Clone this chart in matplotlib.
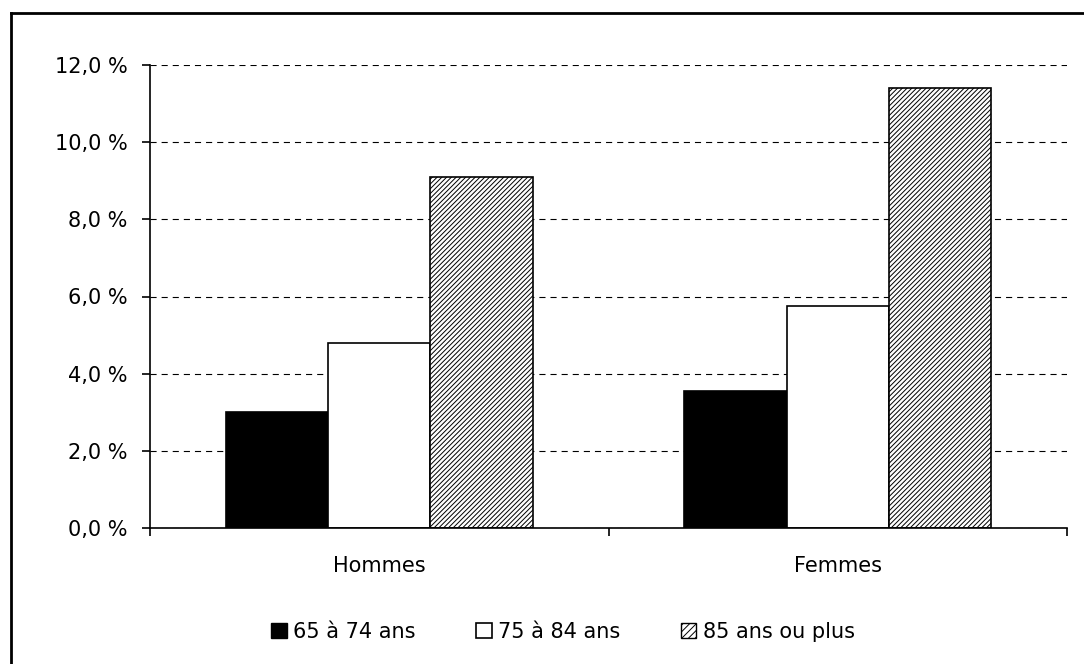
import matplotlib
matplotlib.use("Agg")
import matplotlib.pyplot as plt
import numpy as np
from matplotlib.patches import Patch
from matplotlib.lines import Line2D

plt.rcParams['font.family'] = ['DejaVu Sans']
plt.rcParams['hatch.linewidth'] = 0.7

categories = ["Hommes", "Femmes"]
series_names = ["65 à 74 ans", "75 à 84 ans", "85 ans ou plus"]
v65_74 = [3.0, 3.55]
v75_84 = [4.8, 5.75]
v85_plus = [9.1, 11.4]
yticks = [0, 2, 4, 6, 8, 10, 12]
ytick_labels = ["0,0 %", "2,0 %", "4,0 %", "6,0 %", "8,0 %", "10,0 %", "12,0 %"]

FS = 15
W, H = 1084, 664
fig = plt.figure(figsize=(W / 100, H / 100), dpi=100)
ax = fig.add_axes([150 / W, 1 - 528 / H, (1067 - 150) / W, (528 - 65) / H])

x = np.arange(len(categories))
bw = 0.223
HATCH = "///////"
styles = [dict(facecolor="black", hatch=None),
          dict(facecolor="white", hatch=None),
          dict(facecolor="white", hatch=HATCH)]
for i, vals in enumerate([v65_74, v75_84, v85_plus]):
    ax.bar(x + (i - 1) * bw, vals, width=bw, edgecolor="black", linewidth=1.2,
           zorder=3, **styles[i])

ax.set_xlim(-0.5, 1.5)
ax.set_ylim(0, 12)
ax.set_yticks(yticks)
ax.set_yticklabels(ytick_labels, fontsize=FS)
ax.yaxis.grid(True, linestyle=(0, (5.5, 4.5)), color="black", linewidth=0.8, zorder=0)
ax.set_xticks([-0.5, 0.5, 1.5])
ax.set_xticklabels([])
ax.set_xticks(x, minor=True)
ax.set_xticklabels(categories, minor=True, fontsize=FS)
ax.tick_params(axis="x", which="minor", length=0, pad=20)
ax.tick_params(axis="x", which="major", length=6, width=1.2, direction="out")
ax.tick_params(axis="y", length=6, width=1.2, direction="out", pad=10)
for s in ["top", "right"]:
    ax.spines[s].set_visible(False)
ax.spines["left"].set_linewidth(1.2)
ax.spines["bottom"].set_linewidth(1.2)
ax.spines["left"].set_zorder(4)
ax.spines["bottom"].set_zorder(4)

handles = [Patch(facecolor="black", edgecolor="black"),
           Patch(facecolor="white", edgecolor="black", linewidth=1.2),
           Patch(facecolor="white", edgecolor="black", hatch="/////")]
fig.legend(handles, series_names, loc="center", bbox_to_anchor=(563 / W, 1 - 632 / H),
           ncol=3, frameon=False, fontsize=FS, handlelength=0.75, handleheight=0.75,
           handletextpad=0.3, columnspacing=2.9)

# partial frame: top and left lines
fig.add_artist(Line2D([11 / W, 1.0], [1 - 13 / H, 1 - 13 / H], color="black", linewidth=2,
                      transform=fig.transFigure))
fig.add_artist(Line2D([11 / W, 11 / W], [1 - 13 / H, 0.0], color="black", linewidth=2,
                      transform=fig.transFigure))

fig.savefig("out.png", dpi=100)
